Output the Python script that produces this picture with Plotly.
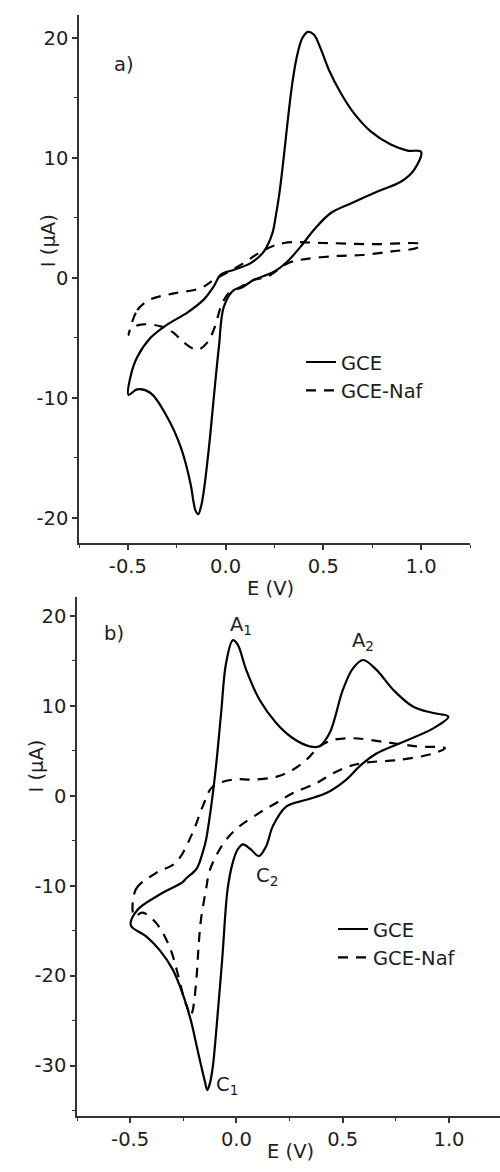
import plotly.graph_objects as go

# ---------- data ----------
# Panel a) GCE
E_a_gce = [-0.497, -0.486, -0.452, -0.384, -0.299, -0.196, -0.111, -0.06, -0.026, 0.043, 0.128, 0.196,
           0.239, 0.256, 0.273, 0.290, 0.307, 0.324, 0.341, 0.364, 0.393, 0.421, 0.452, 0.486, 0.529,
           0.589, 0.657, 0.742, 0.845, 0.93, 1.0,
           0.964, 0.896, 0.777, 0.64, 0.538, 0.452, 0.384, 0.316, 0.247, 0.145, 0.077, 0.043, -0.009,
           -0.034, -0.06, -0.085, -0.111, -0.125, -0.14, -0.154, -0.165, -0.179, -0.23, -0.299,
           -0.384, -0.452, -0.497]
I_a_gce = [-9.75, -8.2, -6.6, -5.0, -3.9, -2.9, -1.8, -0.7, 0.25, 0.67, 1.22, 2.2,
           3.7, 5.1, 6.8, 9.0, 11.5, 14.0, 16.2, 18.4, 20.0, 20.5, 20.25, 19.1, 17.3,
           15.4, 13.7, 12.2, 11.1, 10.6, 10.5,
           9.0, 8.0, 7.2, 6.2, 5.4, 4.0, 2.6, 1.36, 0.5, -0.17, -0.86, -1.0, -2.4,
           -5.7, -9.9, -14.1, -17.7, -19.0, -19.7, -19.4, -18.6, -17.2, -14.1, -11.6,
           -9.6, -9.3, -9.75]

# Panel a) GCE-Naf
E_a_naf = [-0.497, -0.452, -0.384, -0.265, -0.128, -0.06, 0.07, 0.196, 0.299, 0.5, 0.75, 1.0,
           0.98, 0.85, 0.7, 0.55, 0.384, 0.316, 0.213, 0.145, 0.06, 0.02, -0.017, -0.06, -0.094,
           -0.145, -0.213, -0.265, -0.333, -0.435, -0.486, -0.497]
I_a_naf = [-4.75, -2.7, -1.8, -1.3, -0.86, -0.17, 1.0, 2.3, 2.9, 2.9, 2.8, 2.8,
           2.5, 2.2, 1.9, 1.8, 1.5, 1.2, 0.1, -0.17, -0.9, -1.2, -2.1, -4.3, -5.4,
           -6.0, -5.4, -4.6, -4.05, -3.9, -4.3, -4.75]

# Panel b) GCE
E_b_gce = [-0.497, -0.466, -0.363, -0.253, -0.237, -0.19, -0.175, -0.155, -0.143, -0.119, -0.096,
           -0.072, -0.049, -0.017, 0.006, 0.046, 0.108, 0.187, 0.266, 0.344, 0.39, 0.439, 0.501,
           0.549, 0.596, 0.659, 0.737, 0.832, 0.926, 0.997,
           0.926, 0.769, 0.659, 0.58, 0.517, 0.423, 0.329, 0.234, 0.171, 0.14, 0.105, 0.065, 0.03,
           0.005, -0.017, -0.041, -0.067, -0.093, -0.111, -0.125, -0.137, -0.15, -0.17, -0.19,
           -0.214, -0.253, -0.30, -0.363, -0.426, -0.497]
I_b_gce = [-14.4, -12.7, -11.0, -9.6, -9.2, -8.2, -7.5, -6.0, -4.9, -1.2, 3.3,
           9.2, 14.7, 17.3, 16.8, 14.0, 10.7, 8.1, 6.4, 5.5, 5.5, 7.0, 11.8,
           14.2, 15.1, 14.0, 11.8, 9.9, 9.2, 8.8,
           7.5, 5.85, 4.7, 3.3, 1.8, 0.3, -0.44, -1.2, -3.4, -5.6, -6.7, -5.9, -5.4,
           -6.0, -7.4, -10.3, -18.2, -25.6, -30.1, -32.0, -32.7, -31.6, -29.6, -27.5,
           -25.0, -22.0, -19.3, -17.1, -15.6, -14.4]

# Panel b) GCE-Naf
E_b_naf = [-0.481, -0.473, -0.379, -0.284, -0.206, -0.159, -0.112, -0.017, 0.077, 0.187,
           0.266, 0.329, 0.392, 0.454, 0.549, 0.69, 0.848, 0.981,
           0.926, 0.769, 0.612, 0.533, 0.454, 0.376, 0.266, 0.187, 0.108, 0.014, -0.049, -0.096,
           -0.127, -0.143, -0.167, -0.178, -0.186, -0.198, -0.207, -0.218, -0.23, -0.245, -0.277,
           -0.316, -0.379, -0.442, -0.481]
I_b_naf = [-13.4, -10.4, -8.6, -7.4, -4.1, -1.2, 1.0, 1.8, 1.8, 2.1,
           2.9, 4.0, 5.5, 6.2, 6.4, 6.0, 5.5, 5.3,
           4.7, 4.0, 3.7, 3.3, 2.5, 1.4, 0.3, -0.8, -1.9, -3.4, -4.9, -6.7,
           -8.4, -10.4, -13.8, -16.7, -19.7, -22.7, -24.0, -24.5, -23.6, -22.7, -19.7,
           -16.7, -14.1, -13.0, -13.4]

series_names = ["GCE", "GCE-Naf"]

x_tickvals = [-0.5, 0.0, 0.5, 1.0]
x_ticktext = ["-0.5", "0.0", "0.5", "1.0"]
ya_tickvals = [-20, -10, 0, 10, 20]
ya_ticktext = ["-20", "-10", "0", "10", "20"]
yb_tickvals = [-30, -20, -10, 0, 10, 20]
yb_ticktext = ["-30", "-20", "-10", "0", "10", "20"]

# ---------- styling ----------
FONT = "DejaVu Sans"
FS = 19.5
TXT = "#1e1e1e"
AX = "#333333"
DASH = "10px,8px"
LW = 2.2
SM = 1.0

fig = go.Figure()

fig.add_trace(go.Scatter(x=E_a_gce, y=I_a_gce, mode="lines", name=series_names[0],
                         line=dict(color="black", width=LW, shape="spline", smoothing=SM),
                         xaxis="x", yaxis="y", legend="legend"))
fig.add_trace(go.Scatter(x=E_a_naf, y=I_a_naf, mode="lines", name=series_names[1],
                         line=dict(color="black", width=LW, dash=DASH, shape="spline", smoothing=SM),
                         xaxis="x", yaxis="y", legend="legend"))
fig.add_trace(go.Scatter(x=E_b_gce, y=I_b_gce, mode="lines", name=series_names[0],
                         line=dict(color="black", width=LW, shape="spline", smoothing=SM),
                         xaxis="x2", yaxis="y2", legend="legend2"))
fig.add_trace(go.Scatter(x=E_b_naf, y=I_b_naf, mode="lines", name=series_names[1],
                         line=dict(color="black", width=LW, dash=DASH, shape="spline", smoothing=SM),
                         xaxis="x2", yaxis="y2", legend="legend2"))

axis_common = dict(showline=True, linecolor=AX, linewidth=1.5, showgrid=False, zeroline=False,
                   ticks="outside", ticklen=5, tickwidth=1.5, tickcolor=AX,
                   tickfont=dict(family=FONT, size=FS, color=TXT))

fig.update_layout(
    width=500, height=1172,
    margin=dict(l=0, r=0, t=0, b=0),
    paper_bgcolor="white", plot_bgcolor="white",
    font=dict(family=FONT, size=FS, color=TXT),
    xaxis=dict(domain=[0.158, 0.94], range=[-0.75, 1.25], anchor="y",
               tickvals=x_tickvals, ticktext=x_ticktext,
               minor=dict(tickvals=[-0.75, -0.25, 0.25, 0.75, 1.25], ticklen=3, tickwidth=1.2,
                          tickcolor=AX, ticks="outside"),
               **axis_common),
    yaxis=dict(domain=[0.5367, 0.9872], range=[-22.1, 21.9], anchor="x",
               tickvals=ya_tickvals, ticktext=ya_ticktext,
               minor=dict(tickvals=[-15, -5, 5, 15], ticklen=3, tickwidth=1.2,
                          tickcolor=AX, ticks="outside"),
               **axis_common),
    xaxis2=dict(domain=[0.154, 1.0], range=[-0.75, 1.24], anchor="y2",
                tickvals=x_tickvals, ticktext=x_ticktext,
                minor=dict(tickvals=[-0.75, -0.25, 0.25, 0.75], ticklen=3, tickwidth=1.2,
                           tickcolor=AX, ticks="outside"),
                **axis_common),
    yaxis2=dict(domain=[0.0478, 0.4906], range=[-35.6, 22.1], anchor="x2",
                tickvals=yb_tickvals, ticktext=yb_ticktext,
                minor=dict(tickvals=[-35, -25, -15, -5, 5, 15], ticklen=3, tickwidth=1.2,
                           tickcolor=AX, ticks="outside"),
                **axis_common),
    legend=dict(x=0.602, y=0.7075, xanchor="left", yanchor="top", bgcolor="rgba(0,0,0,0)",
                font=dict(family=FONT, size=FS, color=TXT), tracegroupgap=0),
    legend2=dict(x=0.666, y=0.2237, xanchor="left", yanchor="top", bgcolor="rgba(0,0,0,0)",
                 font=dict(family=FONT, size=FS, color=TXT), tracegroupgap=0),
    showlegend=True,
)

ann_font = dict(family=FONT, size=FS, color=TXT)
annotations = [
    dict(text="a)", x=-0.522, y=17.75, xref="x", yref="y", showarrow=False, font=ann_font),
    dict(text="b)", x=-0.575, y=18.0, xref="x2", yref="y2", showarrow=False, font=ann_font),
    dict(text="A<sub>1</sub>", x=0.02, y=18.9, xref="x2", yref="y2", showarrow=False, font=ann_font),
    dict(text="A<sub>2</sub>", x=0.594, y=17.2, xref="x2", yref="y2", showarrow=False, font=ann_font),
    dict(text="C<sub>2</sub>", x=0.146, y=-9.0, xref="x2", yref="y2", showarrow=False, font=ann_font),
    dict(text="C<sub>1</sub>", x=-0.042, y=-32.2, xref="x2", yref="y2", showarrow=False, font=ann_font),
    # axis titles
    dict(text="I (μA)", x=0.07, y=0.819, xref="paper", yref="paper", showarrow=False,
         textangle=-90, font=ann_font),
    dict(text="I (μA)", x=0.046, y=0.3464, xref="paper", yref="paper", showarrow=False,
         textangle=-90, font=ann_font),
    dict(text="E (V)", x=0.54, y=0.498, xref="paper", yref="paper", showarrow=False, font=ann_font),
    dict(text="E (V)", x=0.58, y=0.006, xref="paper", yref="paper", showarrow=False, font=ann_font),
]
fig.update_layout(annotations=annotations)

fig.write_html("out.html")
